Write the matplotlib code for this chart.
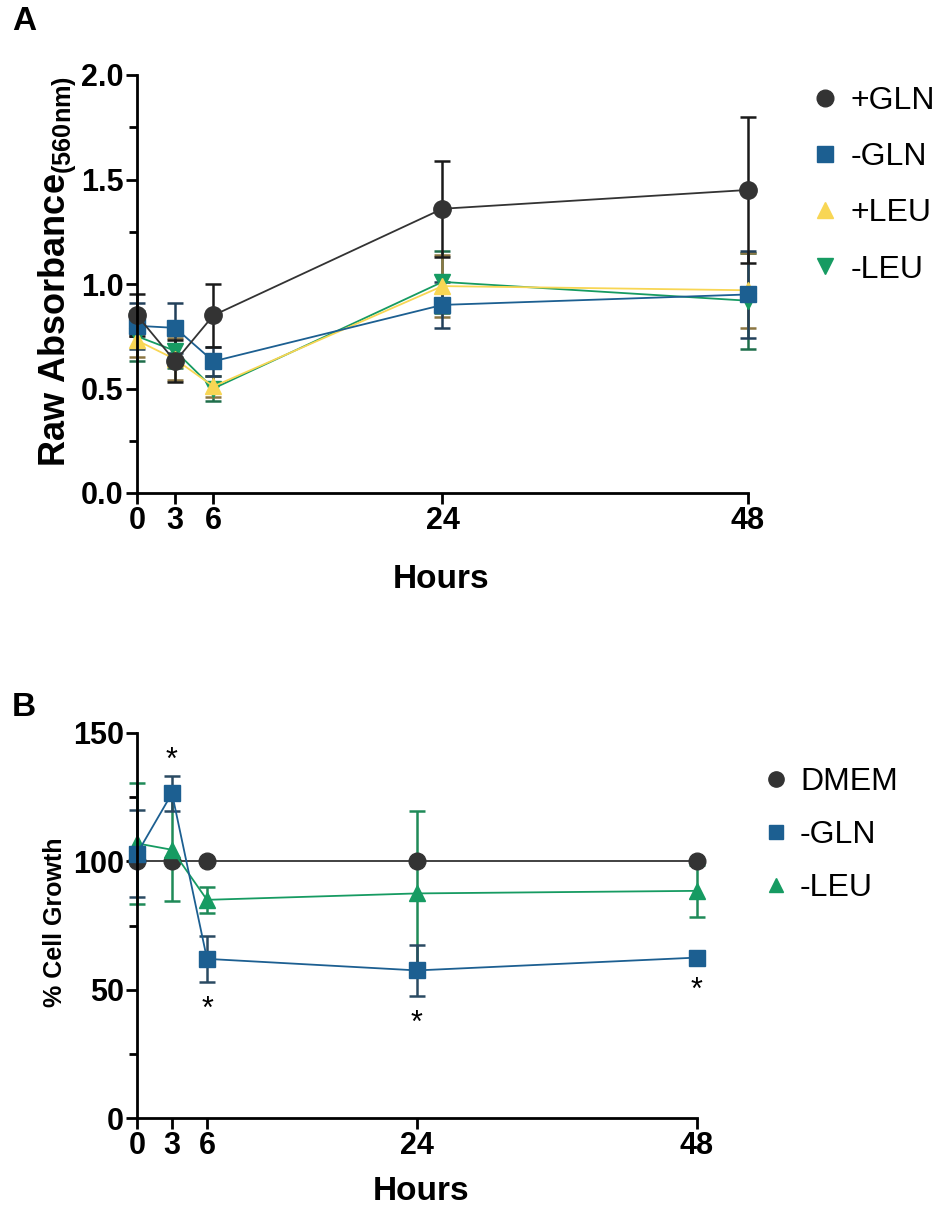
import numpy as np
import matplotlib.pyplot as plt
from matplotlib.lines import Line2D

plt.rcParams['font.family'] = ['Liberation Sans', 'DejaVu Sans']
plt.rcParams['mathtext.fontset'] = 'custom'
plt.rcParams['mathtext.rm'] = 'Liberation Sans:bold'
plt.rcParams['mathtext.it'] = 'Liberation Sans:bold'
plt.rcParams['mathtext.bf'] = 'Liberation Sans:bold'

hours = [0, 3, 6, 24, 48]

# A: raw absorbance (560 nm), mean and SD
gln_plus = [0.85, 0.63, 0.85, 1.36, 1.45]
gln_plus_sd = [0.10, 0.10, 0.15, 0.23, 0.35]
gln_minus = [0.80, 0.79, 0.63, 0.90, 0.95]
gln_minus_sd = [0.11, 0.12, 0.07, 0.11, 0.21]
leu_plus = [0.73, 0.64, 0.51, 0.99, 0.97]
leu_plus_sd = [0.08, 0.10, 0.05, 0.15, 0.18]
leu_minus = [0.75, 0.68, 0.50, 1.01, 0.92]
leu_minus_sd = [0.12, 0.08, 0.06, 0.15, 0.23]

# B: % cell growth relative to DMEM
dmem = [100, 100, 100, 100, 100]
growth_gln = [103, 126.5, 62, 57.5, 62.5]
growth_gln_sd = [17, 6.7, 9, 9.8, 2]
growth_leu = [107, 104.5, 85, 87.5, 88.5]
growth_leu_sd = [23.5, 20, 5, 32, 10]
# significance marks on -GLN: above / below the error bar
gln_stars = [None, 'above', 'below', 'below', 'below']

c_black = '#333333'
c_blue = '#1c5f91'
c_yellow = '#f8d654'
c_green = '#169b62'

W, H = 945, 1218
fig = plt.figure(figsize=(W / 100, H / 100), dpi=100)


def px_axes(x0, x1, ytop, ybot):
    return fig.add_axes([x0 / W, 1 - ybot / H, (x1 - x0) / W, (ybot - ytop) / H])


def style_axis(ax, ymax, yticks, yminor):
    for s in ('top', 'right'):
        ax.spines[s].set_visible(False)
    for s in ('left', 'bottom'):
        ax.spines[s].set_linewidth(2)
    ax.set_xlim(0, 48)
    ax.set_ylim(0, ymax)
    ax.set_xticks(hours)
    ax.set_yticks(yticks)
    ax.set_yticks(yminor, minor=True)
    ax.tick_params(which='major', length=8, width=2, labelsize=22, pad=1.5)
    ax.tick_params(which='minor', length=6, width=2)


def bold_ticks(ax):
    for lbl in ax.get_xticklabels() + ax.get_yticklabels():
        lbl.set_fontweight('bold')


def series(ax, y, sd, color, ecolor, marker, ms):
    ax.errorbar(hours, y, yerr=sd, fmt='-', marker=marker, ms=ms, color=color,
                mfc=color, mec=color, ecolor=ecolor, elinewidth=1.8, capsize=6,
                capthick=1.8, lw=1.3, clip_on=False)


# ---- panel A ----
axA = px_axes(137, 748, 75, 493)
style_axis(axA, 2.0, [0, 0.5, 1.0, 1.5, 2.0], [0.25, 0.75, 1.25, 1.75])
axA.yaxis.set_major_formatter(plt.FormatStrFormatter('%.1f'))
series(axA, leu_minus, leu_minus_sd, c_green, '#1f6e4b', 'v', 11)
series(axA, leu_plus, leu_plus_sd, c_yellow, '#8c7643', '^', 11)
series(axA, gln_minus, gln_minus_sd, c_blue, '#22405a', 's', 11)
series(axA, gln_plus, gln_plus_sd, c_black, '#1a1a1a', 'o', 12.5)
bold_ticks(axA)

fig.text(57 / W, 1 - 271 / H, r'Raw Absorbance$_{\mathrm{(560nm)}}$', rotation=90,
         ha='center', va='center', fontsize=26, fontweight='bold')
fig.text(441 / W, 1 - 580 / H, 'Hours', ha='center', va='center',
         fontsize=24, fontweight='bold')
fig.text(12 / W, 1 - 22 / H, 'A', ha='left', va='center', fontsize=24, fontweight='bold')

hA = [Line2D([], [], ls='none', marker='o', ms=12, color=c_black),
      Line2D([], [], ls='none', marker='s', ms=11, color=c_blue),
      Line2D([], [], ls='none', marker='^', ms=11, color=c_yellow),
      Line2D([], [], ls='none', marker='v', ms=11, color=c_green)]
fig.legend(hA, ['+GLN', '-GLN', '+LEU', '-LEU'], loc='upper left',
           bbox_to_anchor=(796 / W, 1 - 70 / H), frameon=False, fontsize=23,
           handlelength=0.8, handletextpad=0.4, labelspacing=0.82, borderpad=0)

# ---- panel B ----
axB = px_axes(137, 697, 733, 1118)
style_axis(axB, 150, [0, 50, 100, 150], [25, 75, 125])
series(axB, growth_leu, growth_leu_sd, c_green, '#1f8a58', '^', 11)
series(axB, growth_gln, growth_gln_sd, c_blue, '#2a4a62', 's', 11)
axB.plot(hours, dmem, '-o', color=c_black, ms=12, lw=1.3, clip_on=False)
bold_ticks(axB)
for h, m, s, side in zip(hours, growth_gln, growth_gln_sd, gln_stars):
    if side == 'above':
        axB.text(h, m + s + 6, '*', ha='center', va='center', fontsize=22)
    elif side == 'below':
        axB.text(h, m - s - 11, '*', ha='center', va='center', fontsize=22)

fig.text(55 / W, 1 - 922 / H, '% Cell Growth', rotation=90, ha='center',
         va='center', fontsize=18, fontweight='bold')
fig.text(421 / W, 1 - 1192 / H, 'Hours', ha='center', va='center',
         fontsize=24, fontweight='bold')
fig.text(12 / W, 1 - 707 / H, 'B', ha='left', va='center', fontsize=24, fontweight='bold')

hB = [Line2D([], [], ls='none', marker='o', ms=11, color=c_black),
      Line2D([], [], ls='none', marker='s', ms=10, color=c_blue),
      Line2D([], [], ls='none', marker='^', ms=10, color=c_green)]
fig.legend(hB, ['DMEM', '-GLN', '-LEU'], loc='upper left',
           bbox_to_anchor=(749 / W, 1 - 751 / H), frameon=False, fontsize=23,
           handlelength=0.7, handletextpad=0.4, labelspacing=0.72, borderpad=0)

fig.savefig('out.png', dpi=100)
